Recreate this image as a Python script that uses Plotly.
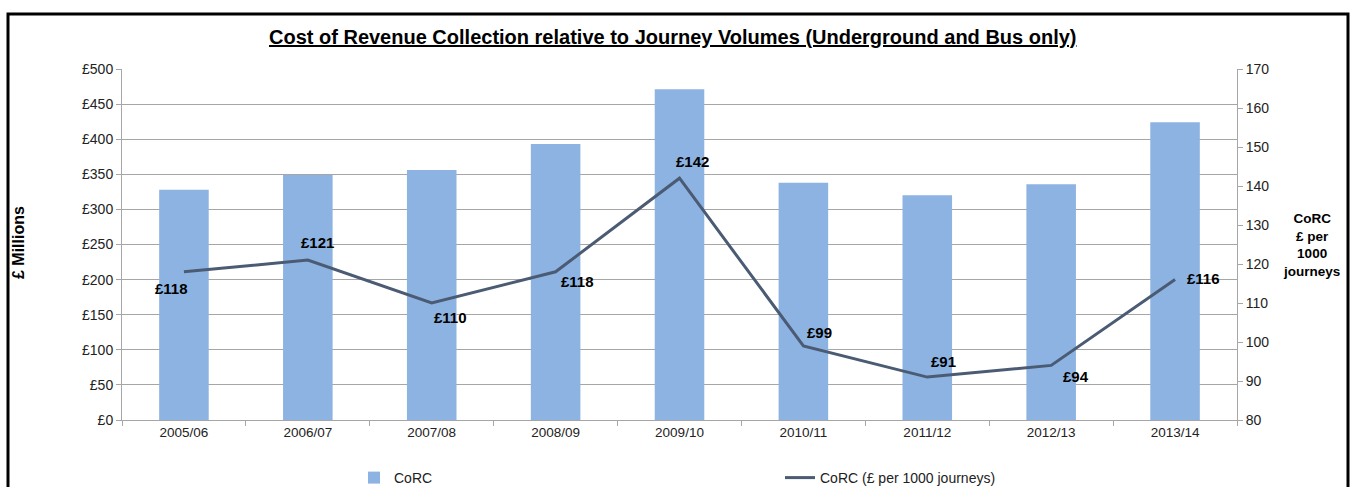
import plotly.graph_objects as go

categories = ["2005/06", "2006/07", "2007/08", "2008/09", "2009/10", "2010/11", "2011/12", "2012/13", "2013/14"]
corc_millions = [328, 349, 356, 393, 471, 338, 320, 336, 424]
corc_per_1000 = [118, 121, 110, 118, 142, 99, 91, 94, 116]
left_ticks = [0, 50, 100, 150, 200, 250, 300, 350, 400, 450, 500]
right_ticks = [80, 90, 100, 110, 120, 130, 140, 150, 160, 170]

# label offsets (px) for the line data labels
label_dx = [-12, 10, 19, 22, 13, 16, 16, 25, 28]
label_dy = [-17, 18, -14, -10, 17, 13, 16, -11, 1]

L, R, T, B = 122, 117, 69, 67
W, H = 1354, 487
pw, ph = W - L - R, H - T - B

def px_x(px):
    return (px - L) / pw

def px_y(py):
    return (H - B - py) / ph

font = "Liberation Sans, Arial"

fig = go.Figure()
fig.add_trace(go.Bar(
    x=categories, y=corc_millions, name="CoRC",
    marker=dict(color="#8DB3E2", line=dict(width=0)),
    yaxis="y", width=0.4,
))
fig.add_trace(go.Scatter(
    x=categories, y=corc_per_1000, name="CoRC (£ per 1000 journeys)",
    mode="lines", line=dict(color="#4A5B73", width=3),
    yaxis="y2",
))

annotations = []
for c, v, dx, dy in zip(categories, corc_per_1000, label_dx, label_dy):
    annotations.append(dict(
        x=c, y=v, xref="x", yref="y2", text="<b>£%d</b>" % v,
        showarrow=False, xshift=dx, yshift=dy, xanchor="center", yanchor="middle",
        font=dict(family=font, size=15, color="#000000"),
    ))

annotations.append(dict(
    x=px_x(673), y=px_y(37), xref="paper", yref="paper", xanchor="center", yanchor="middle",
    text="<b><u>Cost of Revenue Collection relative to Journey Volumes (Underground and Bus only)</u></b>",
    showarrow=False, font=dict(family=font, size=20, color="#000000"),
))
annotations.append(dict(
    x=px_x(18), y=px_y(243), xref="paper", yref="paper", text="<b>£ Millions</b>",
    xanchor="center", yanchor="middle",
    textangle=-90, showarrow=False, font=dict(family=font, size=16, color="#000000"),
))
annotations.append(dict(
    x=px_x(1311), y=px_y(245), xref="paper", yref="paper",
    xanchor="center", yanchor="middle",
    text="<b>CoRC<br>£ per<br>1000<br>journeys</b>",
    showarrow=False, font=dict(family=font, size=13.5, color="#000000"),
))

fig.update_layout(
    width=W, height=H,
    margin=dict(l=L, r=R, t=T, b=B, pad=0, autoexpand=False),
    paper_bgcolor="white", plot_bgcolor="white",
    font=dict(family=font, size=14, color="#222222"),
    showlegend=True,
    legend=dict(
        orientation="h", xref="container", yref="container",
        x=354 / W, y=1 - 478 / H, xanchor="left", yanchor="middle",
        entrywidth=381, entrywidthmode="pixels",
        font=dict(family=font, size=14, color="#222222"),
        itemwidth=30,
    ),
    bargap=0.6,
    xaxis=dict(
        showgrid=False, showline=True, linecolor="#A6A6A6", linewidth=1,
        ticks="outside", ticklen=5, tickcolor="#A6A6A6", tickson="boundaries",
        tickfont=dict(family=font, size=13.5, color="#222222"),
    ),
    yaxis=dict(
        range=[0, 500], tickmode="array", tickvals=left_ticks,
        ticktext=["£%d" % v for v in left_ticks],
        showgrid=True, gridcolor="#A6A6A6", gridwidth=1,
        showline=True, linecolor="#A6A6A6", linewidth=1,
        ticks="outside", ticklen=5, tickcolor="#A6A6A6",
        tickfont=dict(family=font, size=14, color="#222222"), zeroline=False,
    ),
    yaxis2=dict(
        range=[80, 170], tickmode="array", tickvals=right_ticks, overlaying="y", side="right",
        showgrid=False, showline=True, linecolor="#A6A6A6", linewidth=1,
        ticks="outside", ticklen=5, tickcolor="#A6A6A6",
        tickfont=dict(family=font, size=14, color="#222222"), zeroline=False,
    ),
    annotations=annotations,
    shapes=[dict(
        type="rect", xref="paper", yref="paper",
        x0=px_x(8), x1=px_x(1348), y0=px_y(520), y1=px_y(14),
        line=dict(color="#000000", width=3), fillcolor="rgba(0,0,0,0)", layer="above",
    )],
)

fig.write_html("out.html")
